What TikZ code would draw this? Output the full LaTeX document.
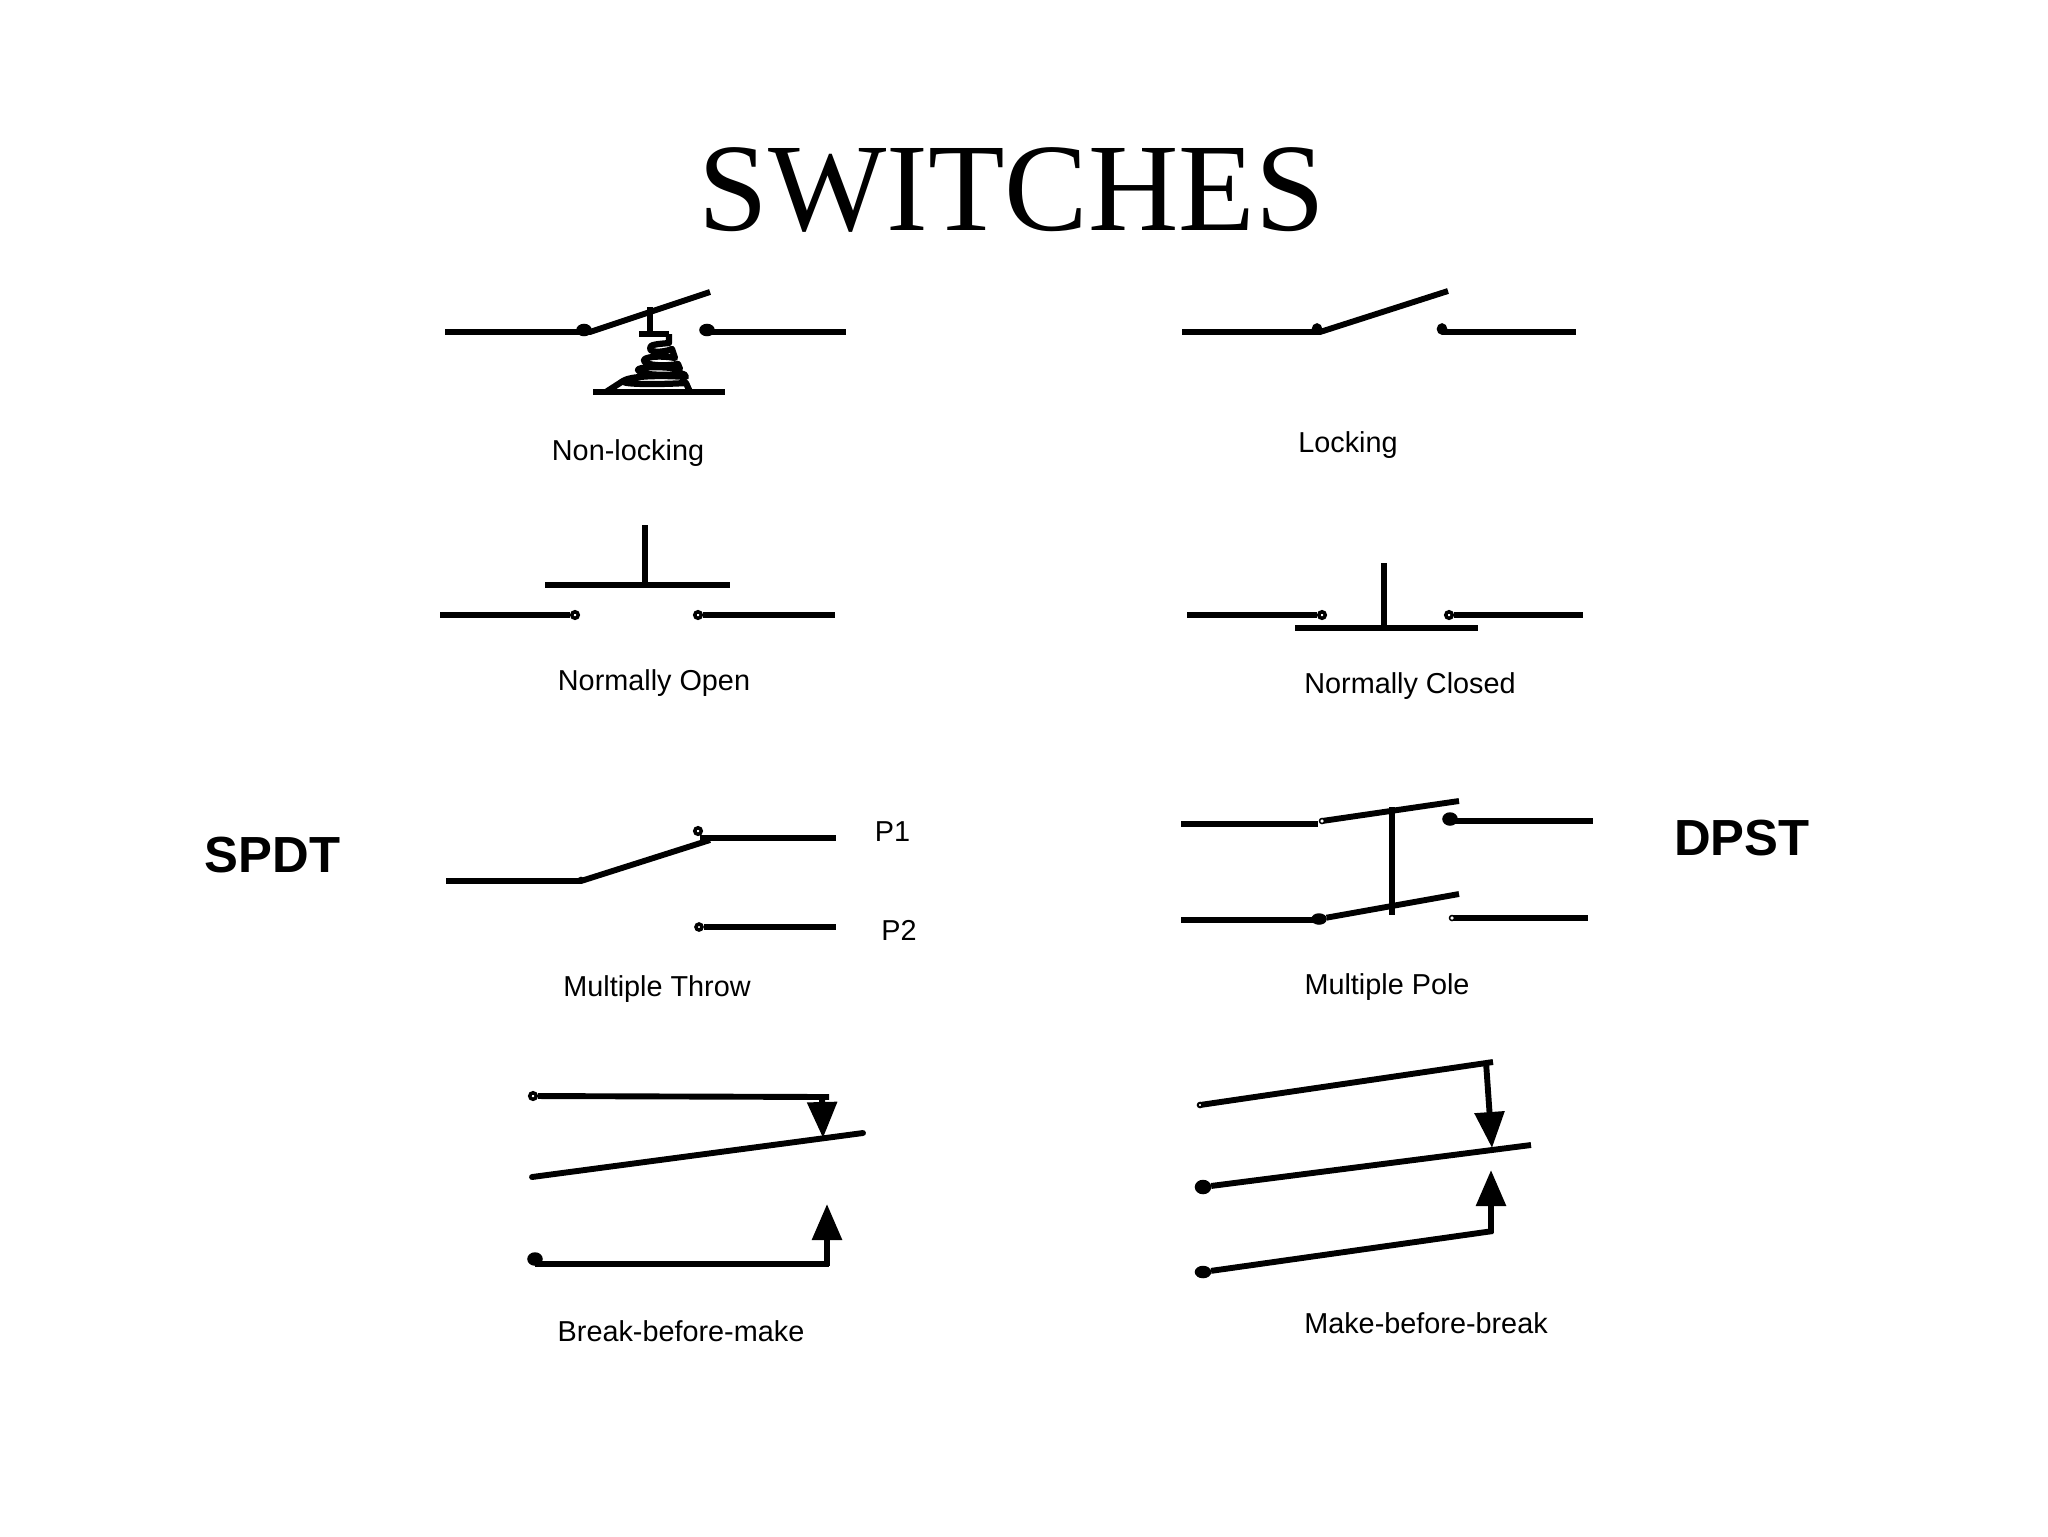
\documentclass[tikz,border=0pt]{standalone}
\usepackage{fontspec}
\setmainfont{Liberation Sans}
\newfontfamily\titlefont{Liberation Serif}
\usetikzlibrary{arrows.meta,shapes.geometric}
\tikzset{
  x=0.02cm,y=-0.02cm,
  wire/.style={line width=0.118cm,line cap=butt,line join=miter,black},
  thinwire/.style={line width=0.105cm,black},
  arrowwire/.style={wire,-{Triangle[length=0.72cm,width=0.58cm,sep=0pt]}},
  ring/.style={circle,draw=black,fill=white,line width=0.07cm,inner sep=0pt,minimum size=0.13cm},
  blob/.style={ellipse,draw=black,fill=black,line width=0.05cm,inner sep=0pt,minimum width=0.26cm,minimum height=0.2cm},
  label/.style={font=\fontsize{16.4}{19}\selectfont,inner sep=0pt,black},
  tag/.style={font=\fontsize{28.9}{32}\selectfont\bfseries,inner sep=0pt,black},
  title/.style={font=\titlefont\fontsize{71.3}{76}\selectfont,inner sep=0pt,black},
  coil/.style={line width=0.125cm,black,line join=round}
}
\begin{document}
\begin{tikzpicture}
\useasboundingbox (0,0) rectangle (2048,1536);
\fill[white] (0,0) rectangle (2048,1536);

\node[title] (ttl) at (1012,190) {SWITCHES};

% Non-locking
\node[blob] (a1) at (584,330) {};
\node[blob] (a2) at (707,330) {};
\coordinate (a0) at (445,332);
\coordinate (a3) at (846,332);
\coordinate (a4) at (710,292);
\draw[wire] (a0) -- (590,332) -- (a4);
\draw[wire] (707,332) -- (a3);
\coordinate (a5) at (650,307);
\coordinate (a6) at (650,334);
\draw[thinwire] (a5) -- (a6);
\draw[wire] (639,334) -- (669,334);
\draw[wire] (593,392) -- (725,392);
\draw[coil] (669,334) -- (669,343) .. controls (660,344) and (648,344) .. (650,349)
  .. controls (652,354) and (668,351) .. (672,349)
  -- (675,358) .. controls (660,355) and (642,357) .. (644,361)
  .. controls (646,366) and (668,366) .. (678,364)
  -- (680,369) .. controls (660,366) and (637,367) .. (638,370)
  .. controls (640,376) and (670,375) .. (684,374)
  -- (686,377) .. controls (660,375) and (630,376) .. (623,381)
  .. controls (620,384) and (650,385) .. (686,383)
  -- (690,392);
\draw[coil] (623,381) -- (606,392);

% Locking
\node[blob,minimum width=0.16cm,minimum height=0.18cm] (b1) at (1317,329) {};
\node[blob,minimum width=0.16cm,minimum height=0.18cm] (b2) at (1442,329) {};
\coordinate (b0) at (1182,332);
\coordinate (b3) at (1576,332);
\coordinate (b4) at (1448,291);
\draw[wire] (b0) -- (1320,332) -- (b4);
\draw[wire] (b2 |- b3) -- (b3);

% Normally open
\node[ring] (c1) at (575,615) {};
\node[ring] (c2) at (698,615) {};
\coordinate (c0) at (440,615);
\coordinate (c3) at (835,615);
\draw[thinwire] (c0) -- (c1);
\draw[thinwire] (c2) -- (c3);
\coordinate (c4) at (545,585);
\coordinate (c5) at (730,585);
\coordinate (c6) at (645,525);
\coordinate (c7) at (645,585);
\draw[thinwire] (c4) -- (c5);
\draw[thinwire] (c6) -- (c7);

% Normally closed
\node[ring] (d1) at (1322,615) {};
\node[ring] (d2) at (1449,615) {};
\coordinate (d0) at (1187,615);
\coordinate (d3) at (1583,615);
\draw[thinwire] (d0) -- (d1);
\draw[thinwire] (d2) -- (d3);
\coordinate (d4) at (1295,628);
\coordinate (d5) at (1478,628);
\coordinate (d6) at (1384,563);
\coordinate (d7) at (1384,628);
\draw[thinwire] (d4) -- (d5);
\draw[thinwire] (d6) -- (d7);

% Multiple throw
\node[ring,minimum size=0.08cm,line width=0.05cm] (e1) at (581,880) {};
\node[ring] (e2) at (698,831) {};
\node[ring,minimum size=0.12cm] (e3) at (699,927) {};
\coordinate (e0) at (446,881);
\coordinate (e4) at (710,840);
\coordinate (e5) at (700,838);
\coordinate (e6) at (836,838);
\coordinate (e7) at (836,927);
\draw[wire] (e0) -- (581,881) -- (e4);
\draw[thinwire] (e5) -- (e6);
\draw[thinwire] (e3) -- (e7);

% Multiple pole
\coordinate (f0) at (1181,824);
\coordinate (f1) at (1318,824);
\coordinate (f2) at (1459,801);
\coordinate (f3) at (1593,821);
\coordinate (f4) at (1181,920);
\coordinate (f5) at (1459,894);
\coordinate (f6) at (1588,918);
\coordinate (f7) at (1392,807);
\coordinate (f8) at (1392,915);
\node[blob,minimum width=0.26cm,minimum height=0.22cm] (f10) at (1450,819) {};
\node[blob,minimum width=0.26cm,minimum height=0.18cm] (f11) at (1319,919) {};
\draw[wire] (f0) -- (f1);
\draw[wire] (1322,821) -- (f2);
\draw[wire] (f10 |- f3) -- (f3);
\draw[wire] (f4) -- (1316,920);
\draw[wire] (f11) -- (f5);
\draw[wire] (1452,918) -- (f6);
\draw[wire] (f7) -- (f8);
\node[ring,minimum size=0.1cm,line width=0.03cm] (f9) at (1322,821) {};
\node[ring,minimum size=0.1cm,line width=0.03cm] (f12) at (1452,918) {};

% Break-before-make
\node[ring,minimum size=0.13cm] (g1) at (533,1096) {};
\coordinate (g2) at (829,1097);
\coordinate (g3) at (822,1097);
\coordinate (g4) at (823,1138);
\coordinate (g5) at (532,1177);
\coordinate (g6) at (863,1133);
\node[blob,minimum width=0.26cm,minimum height=0.22cm] (g7) at (535,1259) {};
\coordinate (g8) at (535,1264);
\coordinate (g9) at (827,1264);
\coordinate (g10) at (825,1204);
\draw[wire] (g1) -- (g2);
\draw[arrowwire] (g3) -- (g4);
\draw[wire,line cap=round] (g5) -- (g6);
\draw[wire] (g8) -- (829,1264);
\draw[arrowwire] (g9 |- 0,1266) -- (g10 -| g9);

% Make-before-break
\coordinate (h1) at (1493,1062);
\coordinate (h2) at (1486,1062);
\coordinate (h3) at (1492,1148);
\node[blob,minimum width=0.28cm,minimum height=0.24cm] (h4) at (1203,1187) {};
\coordinate (h5) at (1531,1145);
\node[blob,minimum width=0.28cm,minimum height=0.2cm] (h6) at (1203,1272) {};
\coordinate (h7) at (1493,1231);
\coordinate (h8) at (1491,1170);
\draw[wire] (1200,1105) -- (h1);
\draw[arrowwire] (h2) -- (h3);
\draw[wire] (h4) -- (h5);
\draw[wire] (h6) -- (h7);
\draw[arrowwire] (1491,1233) -- (h8);
\node[ring,minimum size=0.09cm,line width=0.04cm] (h0) at (1200,1105) {};

% Labels
\node[label] (l1) at (628,453) {Non-locking};
\node[label] (l2) at (1348,445) {Locking};
\node[label] (l3) at (654,683) {Normally Open};
\node[label] (l4) at (1410,686) {Normally Closed};
\node[label] (l5) at (657,989) {Multiple Throw};
\node[label] (l6) at (1387,987) {Multiple Pole};
\node[label] (l7) at (681,1331) {Break-before-make};
\node[label] (l8) at (1426,1323) {Make-before-break};
\node[label] (p1) at (892.5,832) {P1};
\node[label] (p2) at (899,930) {P2};
\node[tag] (t1) at (272.5,855) {SPDT};
\node[tag] (t2) at (1742,838) {DPST};
\end{tikzpicture}
\end{document}
